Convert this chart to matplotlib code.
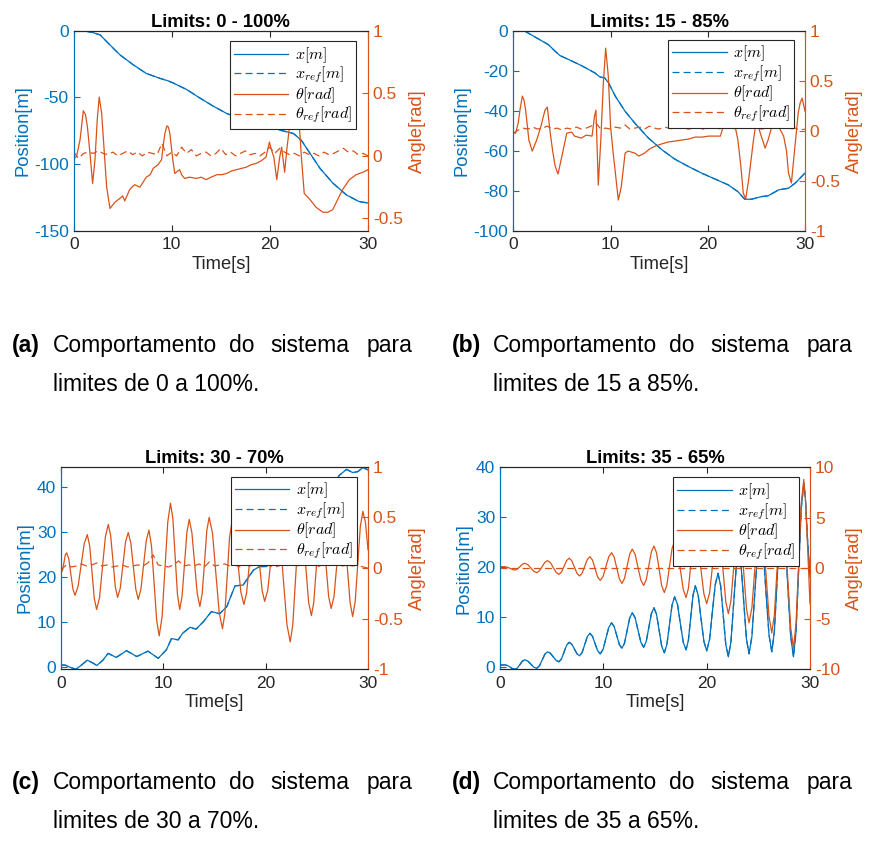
import matplotlib.pyplot as plt
import numpy as np
from matplotlib.lines import Line2D
from matplotlib.ticker import FuncFormatter

plt.rcParams['font.family'] = ['Liberation Sans', 'DejaVu Sans']
plt.rcParams['mathtext.fontset'] = 'cm'
plt.rcParams['axes.unicode_minus'] = False
plt.rcParams['lines.scale_dashes'] = False

BLUE = '#0072BD'
ORANGE = '#D95319'
DARK = '#262626'

# ---------------- (a) limits 0 - 100 % ----------------
t_x_a = [0, 1, 2, 2.7, 3.7, 4.7, 6.1, 7.4, 8.8, 9.6, 10.1, 11.5, 12.9, 14.2,
         15.6, 16.9, 18.3, 19.6, 21, 22.4, 23.2, 24.1, 25.1, 26.4, 27.8, 29.1, 30]
x_a = [0, 0, -1.5, -3.2, -10.7, -18, -25.7, -32, -35.7, -37.5, -39, -44, -50.6, -56.4,
       -62, -65.6, -68, -70.6, -74.4, -77, -82, -92, -103, -114, -123, -128, -129]

t_th_a = [0, 0.1, 0.3, 0.65, 0.98, 1.2, 1.4, 1.66, 1.93, 2.17,
          2.4, 2.6, 2.85, 3.1, 3.36, 3.7, 3.9, 4.2, 4.7, 5.0,
          5.2, 5.7, 6.2, 6.75, 7.4, 7.8, 8.1, 8.6, 8.96, 9.15,
          9.3, 9.5, 9.65, 9.8, 10.1, 10.3, 10.8, 11.0, 11.3, 11.8,
          12.5, 13.0, 13.5, 14.0, 14.6, 15.1, 15.6, 16.1, 16.6, 17.1,
          17.6, 18.1, 18.6, 19.1, 19.6, 19.95, 20.15, 20.4, 20.7, 21.0,
          21.2, 21.5, 21.75, 22.0, 22.25, 22.5, 22.75, 22.9, 23.2, 23.5,
          24.1, 24.7, 25.4, 25.9, 26.4, 26.9, 27.4, 28.1, 28.8, 29.5,
          30]
th_a = [0.02, -0.02, 0.0, 0.13, 0.36, 0.33, 0.23, 0.02, -0.22, -0.03,
        0.29, 0.47, 0.34, 0.05, -0.25, -0.42, -0.40, -0.37, -0.34, -0.32,
        -0.36, -0.27, -0.23, -0.25, -0.17, -0.15, -0.10, -0.07, -0.03, 0.10,
        0.18, 0.24, 0.23, 0.18, -0.03, -0.14, -0.11, -0.15, -0.18, -0.17,
        -0.18, -0.17, -0.19, -0.17, -0.15, -0.15, -0.14, -0.12, -0.11, -0.10,
        -0.09, -0.07, -0.06, -0.04, -0.01, 0.11, 0.05, -0.01, -0.19, -0.01,
        0.07, -0.13, 0.07, 0.23, 0.40, 0.50, 0.45, 0.37, 0.0, -0.30,
        -0.35, -0.41, -0.45, -0.45, -0.43, -0.35, -0.27, -0.19, -0.15, -0.13,
        -0.11]

th_ref_a = [0.03, -0.02, 0.02, 0.03, 0.02, 0.04, 0.02, 0.01, 0.03, 0.00,
            0.02, 0.04, 0.01, 0.03, 0.00, 0.03, 0.02, 0.01, 0.10, 0.00,
            0.03, 0.00, 0.07, 0.02, 0.05, 0.00, 0.02, 0.03, 0.00, 0.02,
            0.06, 0.01, 0.03, 0.00, 0.02, 0.04, 0.01, 0.02, 0.00, 0.03,
            0.07, 0.02, 0.06, 0.03, 0.01, 0.02, 0.00, 0.03, 0.01, 0.02,
            0.00, 0.03, 0.01, 0.02, 0.04, 0.06, 0.03, 0.04, 0.01, 0.02,
            0.00]

# ---------------- (b) limits 15 - 85 % ----------------
t_x_b = [0, 1.2, 2.2, 3.6, 4.3, 4.8, 5.7, 7.0, 8.4, 8.9,
         9.4, 9.8, 10.5, 11.5, 12.5, 13.9, 15.3, 16.6, 18, 19.4,
         20.7, 22.1, 23.1, 23.8, 24.5, 25.5, 26.2, 27.3, 28.3, 29,
         30]
x_b = [0, 0, -2.8, -6.7, -10, -12.2, -14.2, -17.2, -20.9, -22.9,
       -23.4, -25.9, -32.6, -40.1, -46, -53.5, -59.4, -64, -67.7, -71.1,
       -73.9, -76.9, -80.3, -84.1, -84.1, -82.8, -82.4, -79.4, -78.6, -76,
       -71]

t_th_b = [0, 0.24, 0.5, 0.7, 0.93, 1.1, 1.27, 1.6, 1.95, 2.4,
          2.85, 3.1, 3.26, 3.5, 3.8, 4.05, 4.3, 4.6, 5.0, 5.5,
          6.0, 6.3, 7.0, 7.5, 8.1, 8.35, 8.5, 8.74, 9.0, 9.26,
          9.5, 9.77, 10.0, 10.25, 10.5, 10.8, 11.1, 11.5, 11.8, 12.5,
          12.9, 13.5, 14.0, 14.6, 15.2, 15.9, 16.6, 17.3, 18.0, 18.7,
          19.4, 20.1, 20.7, 21.3, 21.6, 22.1, 22.6, 23.1, 23.4, 23.65,
          23.9, 24.2, 24.7, 25.0, 25.4, 25.9, 26.2, 26.6, 27.1, 27.8,
          28.1, 28.3, 28.6, 29.0, 29.3, 29.5, 29.7, 30]
th_b = [-0.02, -0.02, 0.08, 0.22, 0.35, 0.31, 0.21, -0.09, -0.20, -0.09,
        0.05, 0.15, 0.21, 0.24, -0.02, -0.20, -0.35, -0.43, -0.25, -0.02,
        -0.01, -0.05, -0.07, -0.04, -0.05, 0.15, 0.21, -0.54, -0.09, 0.48,
        0.83, 0.55, 0.05, -0.20, -0.42, -0.69, -0.56, -0.22, -0.20, -0.22,
        -0.25, -0.22, -0.18, -0.15, -0.13, -0.11, -0.10, -0.09, -0.08, -0.06,
        -0.06, -0.05, -0.05, -0.05, 0.05, 0.11, 0.15, -0.09, -0.35, -0.62,
        -0.68, -0.49, -0.09, 0.11, -0.02, -0.17, -0.09, 0.05, 0.08, -0.05,
        -0.20, -0.42, -0.52, -0.12, 0.18, 0.28, 0.33, 0.20]

th_ref_b = [-0.02, 0.01, 0.03, 0.02, 0.04, 0.02, 0.03, 0.05, 0.02, 0.03,
            0.01, 0.03, 0.02, 0.04, 0.02, 0.03, 0.05, 0.08, 0.02, 0.03,
            0.02, 0.04, 0.03, 0.06, 0.02, 0.03, 0.04, 0.02, 0.05, 0.03,
            0.02, 0.04, 0.03, 0.02, 0.04, 0.03, 0.02, 0.03, 0.04, 0.02,
            0.03, 0.04, 0.02, 0.03, 0.06, 0.03, 0.02, 0.04, 0.02, 0.03,
            0.04, 0.02, 0.03, 0.05, 0.06, 0.03, 0.04, 0.02, 0.03, 0.01,
            0.02]

# ---------------- (c) limits 30 - 70 % ----------------
t_x_c = [0, 0.4, 0.9, 1.46, 2.0, 2.57, 3.16, 3.5, 4.1, 4.6,
         5.4, 6.4, 7.4, 8.5, 9.5, 10.3, 10.8, 11.45, 11.9, 12.6,
         13.2, 13.9, 14.7, 15.5, 16.2, 17.0, 17.8, 18.8, 19.4, 20.1,
         20.7, 21.5, 22.3, 23.0, 24.0, 25.0, 26.0, 27.2, 27.9, 28.5,
         29.0, 29.5, 30]
x_c = [0.5, 0.5, 0.0, -0.44, 0.5, 1.6, 0.9, 0.4, 1.6, 3.1,
       2.2, 3.7, 2.4, 3.6, 2.0, 3.9, 6.4, 6.1, 7.6, 8.9,
       8.5, 10.1, 12.4, 11.9, 13.5, 18.1, 18.3, 21.6, 22.4, 22.4,
       24.2, 26.5, 28.5, 31.0, 33.0, 36.0, 38.5, 42.7, 44.0, 43.3,
       43.5, 44.4, 43.9]

t_th_c = [0, 0.15, 0.3, 0.42, 0.55, 0.76, 0.96, 1.17, 1.37, 1.67,
          1.97, 2.27, 2.57, 2.8, 3.03, 3.25, 3.48, 3.77, 4.05, 4.34,
          4.62, 4.85, 5.08, 5.3, 5.53, 5.79, 6.05, 6.31, 6.57, 6.82,
          7.06, 7.31, 7.55, 7.81, 8.07, 8.33, 8.59, 8.84, 9.1, 9.35,
          9.6, 9.88, 10.15, 10.43, 10.7, 10.93, 11.15, 11.38, 11.6, 11.83,
          12.07, 12.3, 12.53, 12.79, 13.05, 13.31, 13.57, 13.8, 14.03, 14.25,
          14.48, 14.81, 15.13, 15.46, 15.78, 16.01, 16.24, 16.47, 16.7, 16.99,
          17.29, 17.58, 17.87, 18.13, 18.39, 18.64, 18.9, 19.15, 19.4, 19.65,
          19.9, 20.2, 20.5, 20.8, 21.1, 21.43, 21.75, 22.08, 22.4, 22.65,
          22.9, 23.15, 23.4, 23.67, 23.94, 24.2, 24.47, 24.7, 24.94, 25.17,
          25.4, 25.65, 25.9, 26.15, 26.4, 26.68, 26.95, 27.23, 27.5, 27.75,
          28.0, 28.25, 28.5, 28.75, 29.0, 29.25, 29.5, 29.75, 30]
th_c = [-0.05, -0.02, 0.06, 0.13, 0.15, 0.09, -0.06, -0.21, -0.27, -0.18,
        0.03, 0.24, 0.33, 0.22, -0.04, -0.30, -0.41, -0.29, 0.01, 0.31,
        0.43, 0.32, 0.07, -0.18, -0.29, -0.20, 0.03, 0.26, 0.35, 0.25,
        0.02, -0.21, -0.31, -0.21, 0.03, 0.27, 0.375, 0.22, -0.15, -0.52,
        -0.67, -0.48, -0.02, 0.45, 0.64, 0.49, 0.12, -0.26, -0.41, -0.28,
        0.04, 0.35, 0.48, 0.35, 0.05, -0.25, -0.38, -0.25, 0.06, 0.37,
        0.50, 0.34, -0.05, -0.44, -0.60, -0.45, -0.08, 0.30, 0.45, 0.33,
        0.05, -0.24, -0.36, -0.25, 0.02, 0.29, 0.40, 0.29, 0.04, -0.22,
        -0.33, -0.22, 0.06, 0.34, 0.45, 0.28, -0.14, -0.56, -0.73, -0.56,
        -0.14, 0.28, 0.45, 0.32, -0.01, -0.34, -0.47, -0.34, -0.01, 0.32,
        0.45, 0.33, 0.03, -0.28, -0.40, -0.28, 0.03, 0.33, 0.45, 0.31,
        -0.02, -0.34, -0.48, -0.33, 0.04, 0.41, 0.56, 0.45, 0.18]

th_ref_c = [-0.02, 0.03, 0.01, 0.02, 0.04, 0.02, 0.03, 0.05, 0.02, 0.03,
            0.01, 0.02, 0.03, 0.01, 0.02, 0.03, 0.02, 0.05, 0.13, 0.03,
            0.02, 0.01, 0.03, 0.07, 0.02, 0.03, 0.02, 0.04, 0.01, 0.06,
            0.02, 0.03, 0.04, 0.02, 0.03, 0.01, 0.03, 0.02, 0.04, 0.02,
            0.03, 0.02, 0.01, 0.03, 0.02, 0.04, 0.02, 0.03, 0.02, 0.04,
            0.01, 0.03, 0.02, 0.03, 0.04, 0.02, 0.03, 0.02, 0.03, 0.01,
            0.00]

# ---------------- (d) limits 35 - 65 % ----------------
t_d = [0, 0.5, 0.74, 0.98, 1.21, 1.45, 1.69, 1.93, 2.16, 2.4,
       2.69, 2.98, 3.26, 3.55, 3.81, 4.08, 4.34, 4.6, 4.88, 5.15,
       5.43, 5.7, 5.95, 6.2, 6.45, 6.7, 6.95, 7.2, 7.45, 7.7,
       7.95, 8.2, 8.45, 8.7, 8.95, 9.2, 9.45, 9.7, 9.98, 10.25,
       10.53, 10.8, 11.05, 11.3, 11.55, 11.8, 12.05, 12.3, 12.55, 12.8,
       13.08, 13.35, 13.63, 13.9, 14.15, 14.4, 14.65, 14.9, 15.15, 15.4,
       15.65, 15.9, 16.15, 16.4, 16.65, 16.9, 17.18, 17.45, 17.73, 18.0,
       18.23, 18.45, 18.68, 18.9, 19.18, 19.45, 19.73, 20.0, 20.28, 20.55,
       20.83, 21.1, 21.35, 21.6, 21.85, 22.1, 22.35, 22.6, 22.85, 23.1,
       23.35, 23.6, 23.85, 24.1, 24.38, 24.65, 24.93, 25.2, 25.48, 25.75,
       26.03, 26.3, 26.55, 26.8, 27.05, 27.3, 27.58, 27.85, 28.13, 28.4,
       28.65, 28.9, 29.15, 29.4, 29.55, 29.75, 30]
x_d = [0.47, 0.47, 0.34, 0.04, -0.27, -0.40, -0.12, 0.55, 1.22, 1.50,
       1.25, 0.65, 0.05, -0.20, 0.28, 1.45, 2.62, 3.10, 2.81, 2.10,
       1.39, 1.10, 1.67, 3.05, 4.43, 5.00, 4.60, 3.65, 2.70, 2.30,
       2.96, 4.55, 6.14, 6.80, 6.20, 4.75, 3.30, 2.70, 3.61, 5.80,
       7.99, 8.90, 8.15, 6.35, 4.55, 3.80, 4.84, 7.35, 9.86, 10.90,
       9.89, 7.45, 5.01, 4.00, 5.16, 7.95, 10.74, 11.90, 10.58, 7.40,
       4.22, 2.90, 4.54, 8.50, 12.46, 14.10, 12.55, 8.80, 5.05, 3.50,
       5.37, 9.90, 14.43, 16.30, 14.40, 9.80, 5.20, 3.30, 5.57, 11.05,
       16.53, 18.80, 16.35, 10.45, 4.55, 2.10, 5.13, 12.45, 19.77, 22.80,
       19.86, 12.75, 5.64, 2.70, 6.19, 14.60, 23.01, 26.50, 23.07, 14.80,
       6.53, 3.10, 7.11, 16.80, 26.49, 30.50, 26.34, 16.30, 6.26, 2.10,
       7.18, 19.45, 31.72, 36.80, 34.00, 26.00, 18.00]
th_d = [0.17, 0.15, 0.10, -0.01, -0.12, -0.17, -0.07, 0.17, 0.40, 0.50,
        0.36, 0.04, -0.29, -0.43, -0.26, 0.17, 0.59, 0.76, 0.56, 0.08,
        -0.40, -0.60, -0.37, 0.20, 0.77, 1.00, 0.74, 0.12, -0.50, -0.76,
        -0.48, 0.20, 0.87, 1.15, 0.81, -0.03, -0.86, -1.20, -0.80, 0.18,
        1.15, 1.55, 1.10, 0.03, -1.05, -1.50, -1.00, 0.20, 1.40, 1.90,
        1.37, 0.10, -1.17, -1.70, -1.13, 0.25, 1.63, 2.20, 1.53, -0.10,
        -1.73, -2.40, -1.65, 0.15, 1.95, 2.70, 1.88, -0.10, -2.08, -2.90,
        -2.00, 0.15, 2.31, 3.20, 2.22, -0.15, -2.52, -3.50, -2.45, 0.10,
        2.65, 3.70, 2.50, -0.40, -3.30, -4.50, -3.20, -0.10, 3.00, 4.30,
        2.88, -0.55, -3.98, -5.40, -3.88, -0.20, 3.48, 5.00, 3.33, -0.70,
        -4.73, -6.40, -4.61, -0.30, 4.01, 5.80, 3.79, -1.05, -5.89, -7.90,
        -5.45, 0.45, 6.35, 8.80, 7.00, 2.50, -3.50]
t_ref_d = [0, 30]
th_ref_d = [0, 0]

t_ref = np.linspace(0, 30, 61)

titles = ['Limits: 0 - 100%', 'Limits: 15 - 85%', 'Limits: 30 - 70%', 'Limits: 35 - 65%']
labels = [r'$x[m]$', r'$x_{ref}[m]$', r'$\theta[rad]$', r'$\theta_{ref}[rad]$']

W, H = 871, 842
fig = plt.figure(figsize=(W / 100, H / 100), dpi=100)


def px_rect(x0, y0, x1, y1):
    return [x0 / W, 1 - y1 / H, (x1 - x0) / W, (y1 - y0) / H]


def fmt(v, pos):
    return '%g' % v


def panel(rect, title, tx, x, tth, th, tr, thr, ylim_l, yt_l, ylim_r, yt_r, leg_xy):
    ax = fig.add_axes(rect)
    ax2 = ax.twinx()
    ax.plot(tx, x, color=BLUE, lw=0.9)
    ax.plot(tx, x, color=BLUE, lw=0.9, dashes=(5, 3))
    ax2.plot(tth, th, color=ORANGE, lw=0.9)
    ax2.plot(tr, thr, color=ORANGE, lw=0.9, dashes=(5, 3))
    ax.set_xlim(0, 30)
    ax.set_xticks([0, 10, 20, 30])
    ax.set_ylim(*ylim_l)
    ax.set_yticks(yt_l)
    ax2.set_ylim(*ylim_r)
    ax2.set_yticks(yt_r)
    ax2.yaxis.set_major_formatter(FuncFormatter(fmt))
    ax.yaxis.set_major_formatter(FuncFormatter(fmt))

    ax.tick_params(axis='x', direction='in', top=True, length=4, width=0.8,
                   colors=DARK, labelsize=12.5, pad=4.5)
    ax.tick_params(axis='y', direction='in', length=4, width=0.8,
                   colors=BLUE, labelsize=12.5, pad=3.5)
    ax2.tick_params(axis='y', direction='in', length=4, width=0.8,
                    colors=ORANGE, labelsize=12.5, pad=3.5)
    for a in (ax, ax2):
        a.spines['top'].set_color(DARK)
        a.spines['bottom'].set_color(DARK)
        a.spines['left'].set_color(BLUE)
        a.spines['right'].set_color(ORANGE)
        for s in a.spines.values():
            s.set_linewidth(0.8)

    ax.set_xlabel('Time[s]', fontsize=13.2, color=DARK, labelpad=2.5)
    ax.set_ylabel('Position[m]', fontsize=13.2, color=BLUE, labelpad=2)
    ax2.set_ylabel('Angle[rad]', fontsize=13.2, color=ORANGE, labelpad=4.5)
    ax.set_title(title, fontsize=13.2, fontweight='bold', pad=3)

    handles = [Line2D([], [], color=BLUE, lw=0.9),
               Line2D([], [], color=BLUE, lw=0.9, dashes=(5, 3)),
               Line2D([], [], color=ORANGE, lw=0.9),
               Line2D([], [], color=ORANGE, lw=0.9, dashes=(5, 3))]
    leg = ax2.legend(handles, labels, loc='upper right', bbox_to_anchor=leg_xy,
                     bbox_transform=ax.transAxes, borderaxespad=0, fancybox=False,
                     edgecolor=DARK, framealpha=1, fontsize=11.5, handlelength=3.4,
                     labelspacing=0.0, borderpad=0.25, handletextpad=0.4,
                     handleheight=0.5)
    leg.get_frame().set_linewidth(0.8)
    return ax


panel(px_rect(73.7, 30.7, 368, 231), titles[0], t_x_a, x_a, t_th_a, th_a, t_ref, th_ref_a,
      (-150, 0), [-150, -100, -50, 0], (-0.6, 1), [-0.5, 0, 0.5, 1], (0.959, 0.949))
panel(px_rect(513.3, 31.2, 805, 231), titles[1], t_x_b, x_b, t_th_b, th_b, t_ref, th_ref_b,
      (-100, 0), [-100, -80, -60, -40, -20, 0], (-1, 1), [-1, -0.5, 0, 0.5, 1], (0.963, 0.958))
panel(px_rect(61, 466.7, 368, 669.3), titles[2], t_x_c, x_c, t_th_c, th_c, t_ref, th_ref_c,
      (-0.44, 44.6), [0, 10, 20, 30, 40], (-1, 1), [-1, -0.5, 0, 0.5, 1], (0.963, 0.951))
panel(px_rect(500, 467.3, 810, 669.3), titles[3], t_d, x_d, t_d, th_d, t_ref_d, th_ref_d,
      (-0.4, 40), [0, 10, 20, 30, 40], (-10, 10), [-10, -5, 0, 5, 10], (0.965, 0.95))

# captions (justified first line -> words placed separately)
cap_letters = ['(a)', '(b)', '(c)', '(d)']
cap_limits = ['limites de 0 a 100%.', 'limites de 15 a 85%.',
              'limites de 30 a 70%.', 'limites de 35 a 65%.']
cap_words = ['Comportamento', 'do', 'sistema', 'para']
word_x = [53, 229, 270, 367]
for i in range(4):
    dx = 0 if i % 2 == 0 else 440
    dy = 0 if i < 2 else 437
    y1 = 1 - (352 + dy) / H
    y2 = 1 - (391 + dy) / H
    fig.text((12 + dx) / W, y1, cap_letters[i], fontsize=16.5, fontweight='bold',
             va='baseline', ha='left')
    for w, wx in zip(cap_words, word_x):
        fig.text((wx + dx) / W, y1, w, fontsize=16.5, va='baseline', ha='left')
    fig.text((53 + dx) / W, y2, cap_limits[i], fontsize=16.5, va='baseline', ha='left')

fig.savefig('out.png', dpi=100)
